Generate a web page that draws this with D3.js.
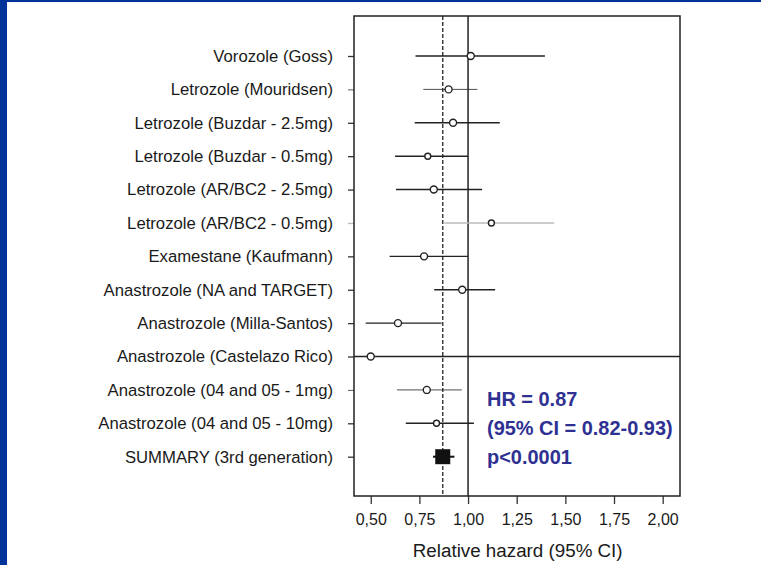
<!DOCTYPE html>
<html>
<head>
<meta charset="utf-8">
<script src="https://cdn.jsdelivr.net/npm/d3@7.9.0/dist/d3.min.js"></script>
<style>
  body { margin: 0; background: #fff; }
  svg { display: block; font-family: "Liberation Sans", Arial, sans-serif; }
</style>
</head>
<body>
<svg id="chart" width="761" height="565"></svg>
<script>
// study labels, top to bottom
const studies = [
  "Vorozole (Goss)",
  "Letrozole (Mouridsen)",
  "Letrozole (Buzdar - 2.5mg)",
  "Letrozole (Buzdar - 0.5mg)",
  "Letrozole (AR/BC2 - 2.5mg)",
  "Letrozole (AR/BC2 - 0.5mg)",
  "Examestane (Kaufmann)",
  "Anastrozole (NA and TARGET)",
  "Anastrozole (Milla-Santos)",
  "Anastrozole (Castelazo Rico)",
  "Anastrozole (04 and 05 - 1mg)",
  "Anastrozole (04 and 05 - 10mg)"
];
// relative hazard and 95% CI
const hr    = [1.014, 0.90, 0.923, 0.793, 0.824, 1.12, 0.774, 0.97, 0.64, 0.50, 0.788, 0.838];
const lower = [0.73, 0.77, 0.726, 0.625, 0.63, 0.878, 0.597, 0.826, 0.474, 0.30, 0.635, 0.68];
const upper = [1.395, 1.048, 1.163, 1.0, 1.072, 1.443, 1.0, 1.139, 0.864, 2.60, 0.968, 1.03];

const summaryLabel = "SUMMARY (3rd generation)";
const summary = { hr: 0.87, lower: 0.82, upper: 0.93 };

const xTicks = [0.5, 0.75, 1.0, 1.25, 1.5, 1.75, 2.0];
const statLines = ["HR = 0.87", "(95% CI = 0.82-0.93)", "p<0.0001"];

const svg = d3.select("#chart");

// slide border
svg.append("rect").attr("width", 761).attr("height", 565).attr("fill", "#fff");
svg.append("rect").attr("width", 7).attr("height", 565).attr("fill", "#003399");
svg.append("rect").attr("width", 761).attr("height", 2).attr("fill", "#003399");

const plotLeft = 354, plotRight = 680, plotTop = 16, plotBottom = 496;

const x = d3.scaleLinear().domain([0.414, 2.089]).range([plotLeft, plotRight]);
const y = d3.scalePoint().domain([...studies, summaryLabel]).range([56, 456.7]);

const rows = studies.map((s, i) => ({ s, hr: hr[i], lo: lower[i], hi: upper[i] }));

// row axis with labels
const yAxis = svg.append("g")
  .attr("transform", `translate(${plotLeft},0)`)
  .call(d3.axisLeft(y).tickSize(6).tickPadding(15));
yAxis.select(".domain").remove();
yAxis.selectAll("text")
  .attr("font-size", 16.7)
  .attr("font-family", "Liberation Sans, Arial, sans-serif")
  .attr("fill", "#1a1a1a");
yAxis.selectAll(".tick line")
  .attr("stroke", (d) => d === "Letrozole (AR/BC2 - 0.5mg)" ? "#bbb" : "#333")
  .attr("stroke-width", (d) => d === "Letrozole (Mouridsen)" || d === "Anastrozole (04 and 05 - 1mg)" ? 0.8 : 1.3);

// x axis
const xAxis = svg.append("g")
  .attr("transform", `translate(0,${plotBottom})`)
  .call(d3.axisBottom(x).tickValues(xTicks).tickSize(8).tickPadding(10)
    .tickFormat((d) => d3.format(".2f")(d).replace(".", ",")));
xAxis.select(".domain").remove();
xAxis.selectAll("text")
  .attr("font-size", 16)
  .attr("font-family", "Liberation Sans, Arial, sans-serif")
  .attr("fill", "#1a1a1a");
xAxis.selectAll(".tick line").attr("stroke", "#333").attr("stroke-width", 1.3);

svg.append("text")
  .attr("x", (x(0.5) + x(2.0)) / 2 + 1)
  .attr("y", 557)
  .attr("text-anchor", "middle")
  .attr("font-size", 18.8)
  .attr("fill", "#1a1a1a")
  .text("Relative hazard (95% CI)");

// reference lines
svg.append("line")
  .attr("x1", x(1)).attr("x2", x(1)).attr("y1", plotTop).attr("y2", plotBottom)
  .attr("stroke", "#222").attr("stroke-width", 1.5);
svg.append("line")
  .attr("x1", x(summary.hr)).attr("x2", x(summary.hr)).attr("y1", plotTop).attr("y2", plotBottom)
  .attr("stroke", "#333").attr("stroke-width", 1.4).attr("stroke-dasharray", "4,2");

// CI lines
const clampX = (v) => Math.max(plotLeft, Math.min(plotRight, x(v)));
svg.append("g").selectAll("line")
  .data(rows)
  .join("line")
  .attr("x1", (d) => clampX(d.lo))
  .attr("x2", (d) => clampX(d.hi))
  .attr("y1", (d) => y(d.s))
  .attr("y2", (d) => y(d.s))
  .attr("stroke", (d) => d.s === "Letrozole (AR/BC2 - 0.5mg)" ? "#bbb" : "#222")
  .attr("stroke-width", (d) => d.s === "Letrozole (Mouridsen)" || d.s === "Anastrozole (04 and 05 - 1mg)" ? 0.8 : 1.4);

// point estimates
svg.append("g").selectAll("circle")
  .data(rows)
  .join("circle")
  .attr("cx", (d) => x(d.hr))
  .attr("cy", (d) => y(d.s))
  .attr("r", (d) => d.s.includes("0.5mg)") || d.s.includes("10mg") ? 3 : 3.5)
  .attr("fill", "#fff")
  .attr("stroke", "#222")
  .attr("stroke-width", 1.4);

// summary
const sy = y(summaryLabel);
svg.append("line")
  .attr("x1", x(summary.lower)).attr("x2", x(summary.upper))
  .attr("y1", sy).attr("y2", sy)
  .attr("stroke", "#111").attr("stroke-width", 2);
svg.append("rect")
  .attr("x", x(summary.hr) - 7.5).attr("y", sy - 7.5)
  .attr("width", 15).attr("height", 15)
  .attr("fill", "#111");

// frame
svg.append("rect")
  .attr("x", plotLeft).attr("y", plotTop)
  .attr("width", plotRight - plotLeft).attr("height", plotBottom - plotTop)
  .attr("fill", "none").attr("stroke", "#222").attr("stroke-width", 1.5);

// stats text (slightly condensed bold)
svg.append("g")
  .attr("transform", "translate(487,0) scale(0.95,1)")
  .selectAll("text")
  .data(statLines)
  .join("text")
  .attr("x", 0)
  .attr("y", (d, i) => [406, 435, 464][i])
  .attr("font-size", 21)
  .attr("font-weight", "bold")
  .attr("fill", "#2e3192")
  .text((d) => d);
</script>
</body>
</html>
